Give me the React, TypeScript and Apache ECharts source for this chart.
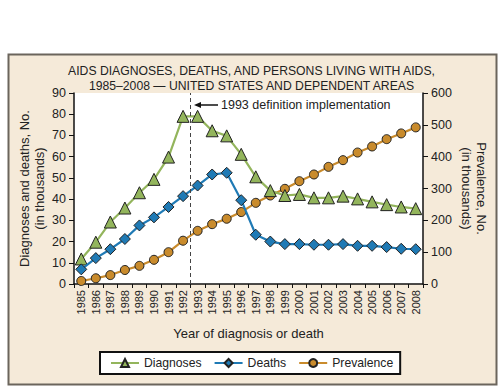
import React, { useEffect, useRef } from "react";
import * as echarts from "echarts";

const years = ["1985","1986","1987","1988","1989","1990","1991","1992","1993","1994","1995","1996","1997","1998","1999","2000","2001","2002","2003","2004","2005","2006","2007","2008"];
const diagnoses = [11.8,19.7,29.2,35.8,43.0,49.3,59.8,79.0,79.0,72.2,69.8,61.1,50.5,44.0,41.7,42.2,40.6,40.6,41.4,40.1,38.7,37.4,36.3,35.5];
const deaths = [6.9,12.2,16.4,21.2,27.6,31.4,36.3,41.4,46.4,51.6,52.4,39.5,23.2,20.0,18.8,18.8,18.5,18.5,18.8,18.0,18.0,17.4,16.6,16.4];
const prevalence = [9.5,18,28,44,57,76,100,136,167,188,205,226,255,278,299,323,344,368,389,413,432,455,473,492];
const leftTicks = { min: 0, max: 90, interval: 10 };
const rightTicks = { min: 0, max: 600, interval: 100 };
const definitionBoundary = 8; // between 1992 and 1993

const FONT = "Liberation Sans, Arial, Helvetica, sans-serif";

export default function App() {
  const ref = useRef<HTMLDivElement>(null);
  useEffect(() => {
    if (!ref.current) return;
    const chart = echarts.init(ref.current, null, { renderer: "svg" });
    chart.setOption({
      animation: false,
      textStyle: { fontFamily: FONT },
      graphic: [
        {
          type: "rect",
          z: -10,
          shape: { x: 8.5, y: 54.5, width: 488, height: 330 },
          style: { fill: "#f5ead9", stroke: "#6b655c", lineWidth: 2 },
        },
        {
          type: "rect",
          z: -9,
          shape: { x: 74, y: 93, width: 349, height: 191 },
          style: { fill: "#ffffff" },
        },
        {
          type: "line",
          shape: { x1: 200, y1: 105, x2: 218, y2: 105 },
          style: { stroke: "#111", lineWidth: 1.5 },
        },
        {
          type: "polygon",
          shape: { points: [[194, 105], [201, 102], [201, 108]] },
          style: { fill: "#111" },
        },
        {
          type: "text",
          x: 221,
          y: 105,
          style: {
            text: "1993 definition implementation",
            fontFamily: FONT,
            fontSize: 12.5,
            fill: "#222",
            verticalAlign: "middle",
          },
        },
      ],
      title: {
        text: "AIDS DIAGNOSES, DEATHS, AND PERSONS LIVING WITH AIDS,\n1985–2008 — UNITED STATES AND DEPENDENT AREAS",
        left: "center",
        top: 58,
        textStyle: { fontFamily: FONT, fontSize: 12.2, fontWeight: "normal", color: "#222", lineHeight: 15 },
      },
      grid: { left: 74, right: 80, top: 93, bottom: 102 },
      legend: {
        data: ["Diagnoses", "Deaths", "Prevalence"],
        left: 100,
        top: 352,
        backgroundColor: "#fff",
        borderColor: "#111",
        borderWidth: 2,
        borderRadius: 0,
        padding: [5, 7, 5, 10],
        itemWidth: 28,
        itemHeight: 10,
        itemGap: 12,
        textStyle: { fontFamily: FONT, fontSize: 12.2, color: "#222" },
      },
      xAxis: [
        {
          type: "category",
          data: years,
          boundaryGap: true,
          name: "Year of diagnosis or death",
          nameLocation: "middle",
          nameGap: 43,
          nameMoveOverlap: false,
          nameTextStyle: { fontFamily: FONT, fontSize: 13, color: "#222" },
          axisLine: { lineStyle: { color: "#111", width: 1.5 } },
          axisTick: { show: true, length: 4, lineStyle: { color: "#111" }, alignWithLabel: false },
          axisLabel: { rotate: 90, fontSize: 11, color: "#222", fontFamily: FONT, margin: 6 },
        },
        { type: "value", min: 0, max: 24, show: false },
      ],
      yAxis: [
        {
          type: "value",
          ...leftTicks,
          position: "left",
          name: "Diagnoses and deaths, No.\n(in thousands)",
          nameLocation: "middle",
          nameGap: 27.5,
          nameMoveOverlap: false,
          nameTextStyle: { fontFamily: FONT, fontSize: 13, color: "#222", lineHeight: 15 },
          axisLine: { show: true, lineStyle: { color: "#111", width: 1.5 } },
          axisTick: { show: true, length: 5, lineStyle: { color: "#111" } },
          axisLabel: { fontSize: 12.5, color: "#222", fontFamily: FONT, margin: 8 },
          splitLine: { show: false },
        },
        {
          type: "value",
          ...rightTicks,
          position: "right",
          name: "Prevalence, No.\n(in thousands)",
          nameLocation: "middle",
          nameRotate: -90,
          nameGap: 35.5,
          nameMoveOverlap: false,
          nameTextStyle: { fontFamily: FONT, fontSize: 13, color: "#222", lineHeight: 15 },
          axisLine: { show: true, lineStyle: { color: "#111", width: 1.5 } },
          axisTick: { show: true, length: 5, lineStyle: { color: "#111" } },
          axisLabel: { fontSize: 12.5, color: "#222", fontFamily: FONT, margin: 8 },
          splitLine: { show: false },
        },
      ],
      series: [
        {
          name: "Diagnoses",
          type: "line",
          data: diagnoses,
          yAxisIndex: 0,
          symbol: "triangle",
          symbolSize: 12,
          lineStyle: { color: "#93b55c", width: 2.2 },
          itemStyle: { color: "#93b55c", borderColor: "#222", borderWidth: 1 },
          z: 3,
        },
        {
          name: "Deaths",
          type: "line",
          data: deaths,
          yAxisIndex: 0,
          symbol: "diamond",
          symbolSize: 11,
          lineStyle: { color: "#1f7ab5", width: 2.2 },
          itemStyle: { color: "#1f7ab5", borderColor: "#222", borderWidth: 1 },
          z: 4,
        },
        {
          name: "Prevalence",
          type: "line",
          data: prevalence,
          yAxisIndex: 1,
          symbol: "circle",
          symbolSize: 9,
          lineStyle: { color: "#c98b2c", width: 2.2 },
          itemStyle: { color: "#c98b2c", borderColor: "#222", borderWidth: 1 },
          z: 2,
        },
        {
          name: "boundary",
          type: "line",
          xAxisIndex: 1,
          yAxisIndex: 0,
          data: [[definitionBoundary, 0]],
          symbol: "none",
          lineStyle: { opacity: 0 },
          silent: true,
          markLine: {
            silent: true,
            symbol: "none",
            label: { show: false },
            lineStyle: { color: "#444", type: [4, 3], width: 1 },
            data: [{ xAxis: definitionBoundary }],
          },
        },
      ],
    });
    return () => chart.dispose();
  }, []);
  return <div ref={ref} style={{ position: "absolute", left: 0, top: 0, width: 503, height: 386 }} />;
}
